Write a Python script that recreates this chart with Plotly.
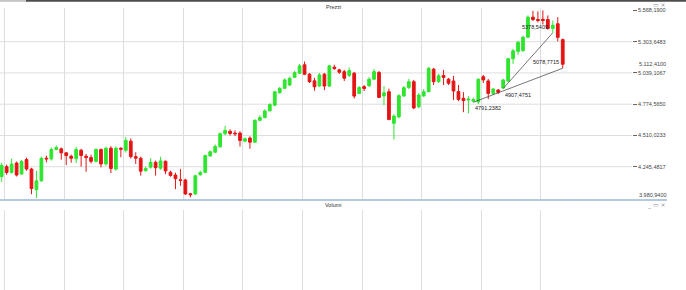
import plotly.graph_objects as go

# ---------------- data ----------------
opens = [4163, 4246, 4197, 4277, 4183, 4306, 4226, 4050, 4126, 4318,
         4312, 4391, 4397, 4363, 4334, 4314, 4385, 4334, 4323, 4291,
         4391, 4269, 4402, 4226, 4402, 4385, 4462, 4331, 4317, 4212,
         4242, 4283, 4233, 4292, 4199, 4175, 4135, 4133, 4017, 4015,
         4178, 4197, 4337, 4368, 4414, 4524, 4545, 4530, 4530, 4462,
         4488, 4453, 4638, 4661, 4718, 4766, 4871, 4909, 4937, 5002,
         5037, 5108, 5028, 4972, 4928, 5028, 4928, 5088, 5065, 5050,
         5018, 5037, 4866, 4923, 4931, 4986, 5043, 4845, 4880, 4613,
         4667, 4845, 4915, 4965, 4752, 4845, 4880, 5071, 4965, 5018,
         4986, 4971, 4881, 4824, 4810, 4800, 4794, 5007, 4971, 4866,
         4894, 4911, 4971, 5159, 5221, 5227, 5341, 5511, 5491, 5493,
         5491, 5415, 5455, 5321]
highs = [4280, 4263, 4314, 4289, 4303, 4323, 4237, 4212, 4331, 4340,
         4408, 4425, 4408, 4368, 4348, 4414, 4397, 4354, 4348, 4402,
         4400, 4414, 4419, 4417, 4411, 4496, 4485, 4368, 4331, 4246,
         4317, 4297, 4330, 4297, 4212, 4195, 4226, 4144, 4024, 4178,
         4212, 4348, 4382, 4434, 4536, 4591, 4562, 4553, 4545, 4494,
         4502, 4647, 4681, 4732, 4783, 4886, 4920, 4993, 5009, 5056,
         5116, 5136, 5039, 4997, 5039, 5039, 5108, 5108, 5073, 5065,
         5085, 5048, 4928, 4937, 5005, 5073, 5056, 4928, 4907, 4690,
         4860, 4928, 4988, 4980, 4869, 4903, 5090, 5082, 5031, 5065,
         4997, 5014, 4937, 4877, 4843, 4830, 4993, 5022, 4988, 4911,
         4903, 4988, 5167, 5244, 5312, 5355, 5526, 5565, 5560, 5568.19,
         5526, 5483, 5511, 5330]
lows = [4118, 4178, 4186, 4163, 4178, 4212, 4013, 3980.94, 4118, 4283,
        4297, 4385, 4305, 4260, 4280, 4277, 4246, 4203, 4272, 4280,
        4240, 4255, 4192, 4212, 4326, 4365, 4314, 4269, 4170, 4203,
        4229, 4170, 4220, 4183, 4161, 4056, 4084, 4007, 3986, 4007,
        4169, 4195, 4331, 4365, 4408, 4514, 4510, 4505, 4417, 4455,
        4397, 4451, 4630, 4655, 4715, 4758, 4865, 4903, 4928, 4997,
        5031, 5022, 4954, 4888, 4920, 4894, 4920, 5065, 5031, 4971,
        5005, 4823, 4860, 4886, 4920, 4980, 4826, 4766, 4638, 4476,
        4655, 4835, 4903, 4732, 4741, 4835, 4877, 4937, 4954, 4937,
        4937, 4809, 4800, 4707, 4698, 4791.2382, 4775, 4954, 4818, 4852,
        4860, 4907.4751, 4963, 5116, 5193, 5218, 5334, 5478, 5466, 5449,
        5406, 5378.5409, 5306, 5078.7715]
closes = [4255, 4197, 4268, 4175, 4289, 4226, 4061, 4126, 4317, 4312,
          4391, 4408, 4363, 4340, 4317, 4391, 4340, 4323, 4291, 4391,
          4269, 4402, 4231, 4402, 4393, 4468, 4331, 4318, 4208, 4231,
          4283, 4237, 4295, 4210, 4172, 4144, 4130, 4015, 4009, 4169,
          4197, 4340, 4372, 4417, 4525, 4553, 4527, 4524, 4468, 4482,
          4453, 4638, 4661, 4718, 4772, 4880, 4909, 4980, 4994, 5042,
          5099, 5028, 4965, 4922, 5022, 4928, 5099, 5076, 5045, 4994,
          5059, 4843, 4916, 4907, 4986, 5050, 4832, 4871, 4645, 4674,
          4847, 4914, 4965, 4743, 4852, 4880, 5078, 4965, 5015, 5001,
          4952, 4886, 4815, 4805, 4818, 4815, 4986, 4980, 4866, 4903,
          4875, 4980, 5159, 5227, 5298, 5341, 5511, 5491, 5483, 5483,
          5415, 5443, 5340, 5112.41]
candle_idx = list(range(len(opens)))

# y-axis ticks (Italian number format)
y_ticks = [5568.19, 5303.6483, 5039.1067, 4774.565, 4510.0233, 4245.4817, 3980.94]
y_tick_labels = ["5.568,1900", "5.303,6483", "5.039,1067", "4.774,5650",
                 "4.510,0233", "4.245,4817", "3.980,9400"]
last_price_label = "5.112,4100"

# vertical grid every 12 bars
x_grid = [0.6 + 12 * k for k in range(10)]

# trend lines (anchored on candle lows)
trend1_x = [95, 113]
trend1_y = [4791.2382, 5078.7715]
trend2_x = [101, 111]
trend2_y = [4907.4751, 5378.5409]

panel_titles = ["Prezzi", "Volumi"]

# ---------------- layout helpers ----------------
W, H = 686, 290
L, R, T, B = 0, 54, 8, 0
PW, PH = W - L - R, H - T - B


def px_x(px):
    return (px - L) / PW


def px_y(py):
    return 1 - (py - T) / PH


def it(v):
    s = f"{v:.4f}"
    return s.replace(".", ",")


GREEN = "#2fe52f"
RED = "#e51414"
GRID = "#dedede"
FONT = "Liberation Sans"

y_top, y_bot = y_ticks[0], y_ticks[-1]
unit = (y_top - y_bot) / 187.6          # value per pixel
y_range = [y_bot - 2.0 * unit, y_top + 2.4 * unit]

fig = go.Figure()
fig.add_trace(go.Candlestick(
    x=candle_idx, open=opens, high=highs, low=lows, close=closes,
    increasing=dict(line=dict(color=GREEN, width=1), fillcolor=GREEN),
    decreasing=dict(line=dict(color=RED, width=1), fillcolor=RED),
    whiskerwidth=0, showlegend=False, hoverinfo="skip",
    xaxis="x", yaxis="y"))

for tx, ty in [(trend1_x, trend1_y), (trend2_x, trend2_y)]:
    fig.add_trace(go.Scatter(x=tx, y=ty, mode="lines",
                             line=dict(color="#3a3a3a", width=0.7),
                             showlegend=False, hoverinfo="skip",
                             xaxis="x", yaxis="y"))

# empty volume panel
fig.add_trace(go.Scatter(x=[candle_idx[0]], y=[0], mode="markers",
                         marker=dict(opacity=0), showlegend=False,
                         hoverinfo="skip", xaxis="x2", yaxis="y2"))

x_range = [-0.34, -0.34 + PW / 4.965]

shapes = []
# interior horizontal grid lines
for v in y_ticks[1:-1]:
    shapes.append(dict(type="line", xref="paper", yref="y", x0=0, x1=1,
                       y0=v, y1=v, line=dict(color=GRID, width=1), layer="below"))
# separator between panels
shapes.append(dict(type="line", xref="paper", yref="paper", x0=0, x1=px_x(667),
                   y0=px_y(200), y1=px_y(200), line=dict(color="#b3c9e2", width=1.8)))
# top bar
shapes.append(dict(type="rect", xref="paper", yref="paper", x0=px_x(26), x1=px_x(686),
                   y0=px_y(0), y1=px_y(1.8), fillcolor="#4d4d4d", line=dict(width=0)))
shapes.append(dict(type="rect", xref="paper", yref="paper", x0=px_x(0), x1=px_x(26),
                   y0=px_y(0), y1=px_y(1.8), fillcolor="#c4c4c4", line=dict(width=0)))

label_font = dict(family=FONT, size=5.5, color="#444444")
ann = []
ann.append(dict(text=panel_titles[0], xref="paper", yref="paper", x=px_x(333), y=px_y(6.5),
                showarrow=False, font=dict(family=FONT, size=5.5, color="#333333"),
                xanchor="center", yanchor="middle"))
ann.append(dict(text=panel_titles[1], xref="paper", yref="paper", x=px_x(333), y=px_y(205),
                showarrow=False, font=dict(family=FONT, size=5.5, color="#333333"),
                xanchor="center", yanchor="middle"))
for py in (5.5, 205):
    ann.append(dict(text="_ ▭ ×", xref="paper", yref="paper", x=px_x(656), y=px_y(py),
                    showarrow=False, font=dict(family="DejaVu Sans", size=6, color="#8c8c8c"),
                    xanchor="center", yanchor="middle"))
# last price and bottom labels
ann.append(dict(text=last_price_label, xref="paper", yref="y", x=1, y=closes[-1],
                xanchor="left", yanchor="middle", xshift=5, showarrow=False, font=label_font))
ann.append(dict(text=y_tick_labels[-1], xref="paper", yref="y", x=1, y=y_ticks[-1],
                xanchor="left", yanchor="middle", xshift=5, yshift=3, showarrow=False,
                font=label_font))
# trend line value labels
tl_font = dict(family=FONT, size=5.5, color="#222222")
ann.append(dict(text=it(trend1_y[0]), x=trend1_x[0], y=trend1_y[0], xref="x", yref="y",
                xanchor="left", yanchor="top", xshift=0, yshift=-1, showarrow=False, font=tl_font))
ann.append(dict(text=it(trend1_y[1]), x=trend1_x[1], y=trend1_y[1], xref="x", yref="y",
                xanchor="right", yanchor="bottom", xshift=-2, yshift=1, showarrow=False, font=tl_font))
ann.append(dict(text=it(trend2_y[0]), x=trend2_x[0], y=trend2_y[0], xref="x", yref="y",
                xanchor="left", yanchor="top", xshift=0, yshift=-2, showarrow=False, font=tl_font))
ann.append(dict(text=it(trend2_y[1]), x=trend2_x[1], y=trend2_y[1], xref="x", yref="y",
                xanchor="right", yanchor="bottom", xshift=-3, yshift=1, showarrow=False, font=tl_font))

fig.update_layout(
    width=W, height=H,
    margin=dict(l=L, r=R, t=T, b=B, pad=0),
    paper_bgcolor="white", plot_bgcolor="white",
    boxgap=0.45, boxgroupgap=0,
    shapes=shapes, annotations=ann,
    xaxis=dict(domain=[0, 1], range=x_range, anchor="y", tickvals=x_grid,
               showticklabels=False, ticks="", showgrid=True, gridcolor=GRID, gridwidth=1,
               zeroline=False, showline=False, rangeslider=dict(visible=False), fixedrange=True),
    yaxis=dict(domain=[px_y(200), 1], range=y_range, side="right", anchor="x",
               tickvals=y_ticks[:-1], ticktext=y_tick_labels[:-1], ticks="outside",
               ticklen=4, tickcolor="#666666", tickwidth=1, tickfont=label_font,
               showgrid=False, zeroline=False, showline=False, fixedrange=True),
    xaxis2=dict(domain=[0, 1], range=x_range, anchor="y2", tickvals=x_grid,
                showticklabels=False, ticks="", showgrid=True, gridcolor=GRID, gridwidth=1,
                zeroline=False, showline=False, fixedrange=True),
    yaxis2=dict(domain=[0, px_y(210)], range=[0, 1], anchor="x2", showticklabels=False,
                ticks="", showgrid=False, zeroline=False, showline=False, fixedrange=True),
)

fig.write_html("out.html")
